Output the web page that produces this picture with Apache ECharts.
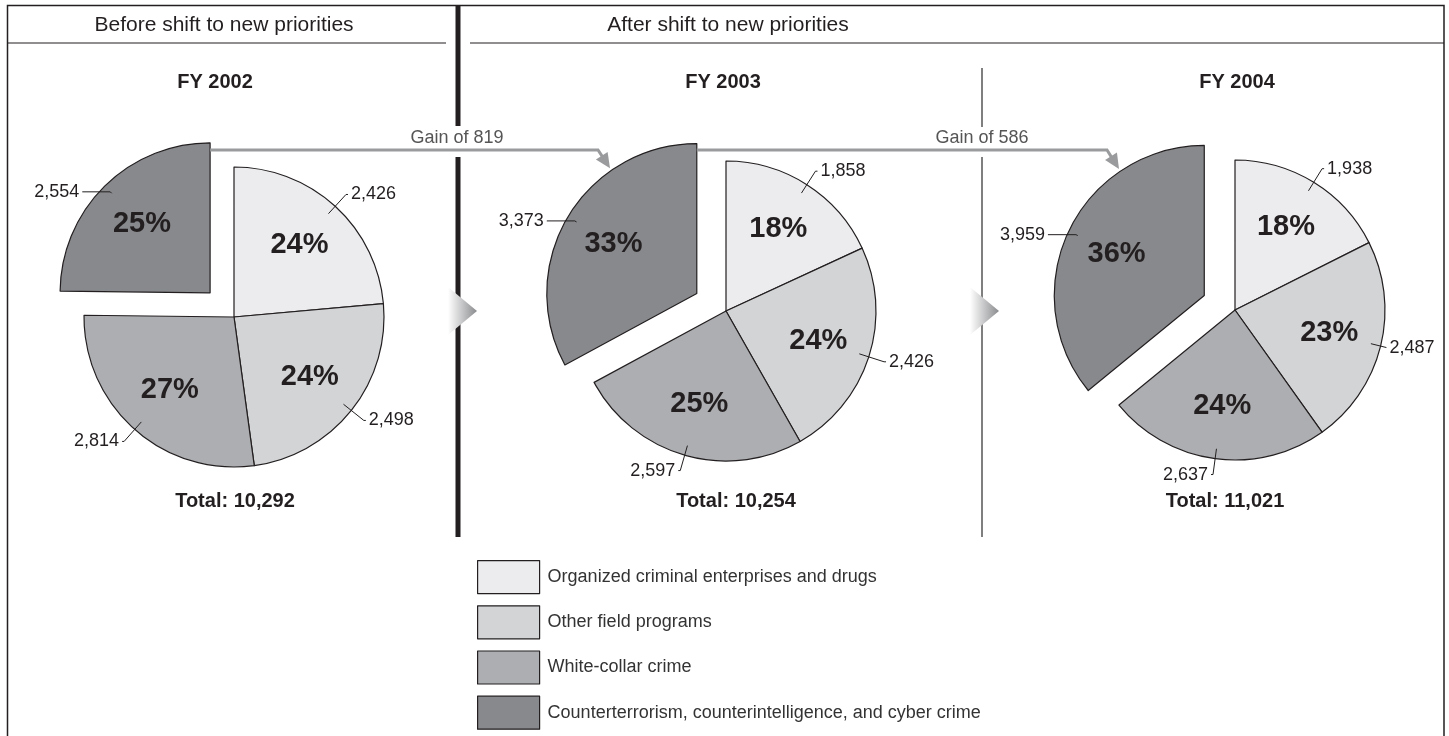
<!DOCTYPE html>
<html><head><meta charset="utf-8">
<script src="https://cdn.jsdelivr.net/npm/echarts@6/dist/echarts.min.js"></script>
<style>html,body{margin:0;padding:0;background:#fff}#c{width:1449px;height:736px}</style>
</head><body><div id="c"></div>
<script>
// ---- data ----
const categories = [
  'Organized criminal enterprises and drugs',
  'Other field programs',
  'White-collar crime',
  'Counterterrorism, counterintelligence, and cyber crime'
];
const years = ['FY 2002', 'FY 2003', 'FY 2004'];
const fy2002 = [2426, 2498, 2814, 2554];
const fy2003 = [1858, 2426, 2597, 3373];
const fy2004 = [1938, 2487, 2637, 3959];
const periodLabels = ['Before shift to new priorities', 'After shift to new priorities'];

// ---- styling / layout ----
const colors = ['#ececee', '#d3d4d6', '#adaeb1', '#88898c'];
const FONT = '"Liberation Sans", Arial, Helvetica, sans-serif';
const INK = '#231f20';
const R = 150, OFFSET = 34;
const centers = [[234, 317], [726, 311], [1235, 310]];
const titleX = [215, 723, 1237];
const totalX = [235, 736, 1225];
const yearValues = [fy2002, fy2003, fy2004];
const fmt = n => n.toLocaleString('en-US');
const sum = a => a.reduce((s, v) => s + v, 0);

function pieSeries(values, idx) {
  const total = sum(values);
  const base = {
    type: 'pie', center: centers[idx], startAngle: 90, clockwise: true,
    selectedMode: 'single', selectedOffset: OFFSET, avoidLabelOverlap: false,
    animation: false, emphasis: { disabled: true }, silent: true
  };
  const mk = extra => values.map((v, i) => Object.assign(
    { name: categories[i], value: v, selected: i === 3 }, extra ? extra(i) : {}));
  return [
    Object.assign({}, base, {
      name: years[idx], radius: R, z: 2,
      label: { show: false }, labelLine: { show: false },
      data: mk(i => ({ itemStyle: { color: colors[i], borderColor: INK, borderWidth: 1.2 } }))
    }),
    Object.assign({}, base, {
      name: years[idx] + ' pct', radius: [38, R], z: 3,
      itemStyle: { color: 'rgba(0,0,0,0)', borderWidth: 0 },
      label: {
        show: true, position: 'inside',
        formatter: p => Math.round(p.value / total * 100) + '%',
        fontSize: 29, fontWeight: 'bold', color: INK, fontFamily: FONT
      },
      labelLine: { show: false },
      data: mk()
    }),
    Object.assign({}, base, {
      name: years[idx] + ' n', radius: R - 10, z: 4,
      itemStyle: { color: 'rgba(0,0,0,0)', borderWidth: 0 },
      label: {
        show: true, position: 'outside', formatter: p => fmt(p.value),
        fontSize: 18, color: INK, fontFamily: FONT, distanceToLabelLine: 3
      },
      labelLine: { show: true, length: 26, length2: 2, lineStyle: { color: INK, width: 1 } },
      data: mk(i => i === 3 ? { labelLine: { length: 2, length2: 28 } }
                  : (idx === 2 && i === 1 ? { labelLine: { length: 16, length2: 0 } } : {}))
    })
  ];
}

// ---- annotations ----
const g = [];
const line = (x1, y1, x2, y2, w, color, z) =>
  g.push({ type: 'line', silent: true, z: z || 1, shape: { x1, y1, x2, y2 }, style: { stroke: color, lineWidth: w } });
const text = (x, y, t, size, weight, color, z) =>
  g.push({ type: 'text', silent: true, x, y, z: z || 5, style: {
    text: t, fontSize: size, fontWeight: weight, fontFamily: FONT, fill: color, align: 'center', verticalAlign: 'middle' } });

g.push({ type: 'rect', silent: true, shape: { x: 7.5, y: 5.5, width: 1436.5, height: 760 },
  style: { fill: 'none', stroke: INK, lineWidth: 1.5 } });
line(7, 43, 446, 43, 1.2, INK);
line(470, 43, 1444, 43, 1.2, INK);
line(458, 5, 458, 126, 5, INK);
line(458, 157, 458, 537, 5, INK);
line(982, 68, 982, 127, 1.5, '#555');
line(982, 157, 982, 537, 1.5, '#555');

text(224, 25, periodLabels[0], 21, 'normal', INK);
text(728, 25, periodLabels[1], 21, 'normal', INK);

years.forEach((y, i) => {
  text(titleX[i], 82, y, 20, 'bold', INK);
  text(totalX[i], 501, 'Total: ' + fmt(sum(yearValues[i])), 20, 'bold', INK);
});

// gradient triangles
[448, 970].forEach(x0 => {
  g.push({ type: 'polygon', silent: true, z: 6, shape: { points: [[x0, 287], [x0 + 29, 311], [x0, 335]] },
    style: { fill: { type: 'linear', x: 0, y: 0, x2: 1, y2: 0,
      colorStops: [{ offset: 0, color: '#ffffff' }, { offset: 1, color: '#8a8b8e' }] } } });
});

// gain arrows
function ctOffsetCenter(idx) {
  const v = yearValues[idx];
  const f = v[3] / sum(v);
  const th = (90 + 180 * f) * Math.PI / 180;
  return [centers[idx][0] + OFFSET * Math.cos(th), centers[idx][1] - OFFSET * Math.sin(th)];
}
const AC = '#9a9b9d';
[0, 1].forEach(k => {
  const from = ctOffsetCenter(k);
  const to = ctOffsetCenter(k + 1);
  const sx = from[0];
  const tipX = centers[k + 1][0] - 116;
  const dx = tipX - to[0];
  const tipY = to[1] - Math.sqrt(R * R - dx * dx) - 3;
  const bx = tipX - 12, by = 150;
  const len = Math.hypot(tipX - bx, tipY - by);
  const ux = (tipX - bx) / len, uy = (tipY - by) / len;
  const ex = tipX - ux * 10, ey = tipY - uy * 10;
  g.push({ type: 'polyline', silent: true, z: 7, shape: { points: [[sx, 150], [bx, by], [ex, ey]] },
    style: { stroke: AC, lineWidth: 3, fill: null, lineJoin: 'miter' } });
  const hx = tipX - ux * 15, hy = tipY - uy * 15;
  g.push({ type: 'polygon', silent: true, z: 7, shape: { points: [
    [tipX, tipY], [hx - uy * 7, hy + ux * 7], [hx + uy * 7, hy - ux * 7]] }, style: { fill: AC } });
  const gain = yearValues[k + 1][3] - yearValues[k][3];
  text(k === 0 ? 457 : 982, 138, 'Gain of ' + gain, 18, 'normal', '#555');
});

const chart = echarts.init(document.getElementById('c'), null, { renderer: 'canvas' });
chart.setOption({
  animation: false,
  backgroundColor: '#fff',
  legend: {
    orient: 'vertical', left: 477, top: 560, itemWidth: 62, itemHeight: 33, itemGap: 11,
    icon: 'rect', data: categories, selectedMode: false, padding: 0,
    itemStyle: { borderColor: INK, borderWidth: 1.2 },
    textStyle: { fontSize: 18, color: '#333', fontFamily: FONT, padding: [0, 0, 0, 3] }
  },
  series: [].concat(pieSeries(fy2002, 0), pieSeries(fy2003, 1), pieSeries(fy2004, 2)),
  graphic: { elements: g }
});
</script>
</body></html>
